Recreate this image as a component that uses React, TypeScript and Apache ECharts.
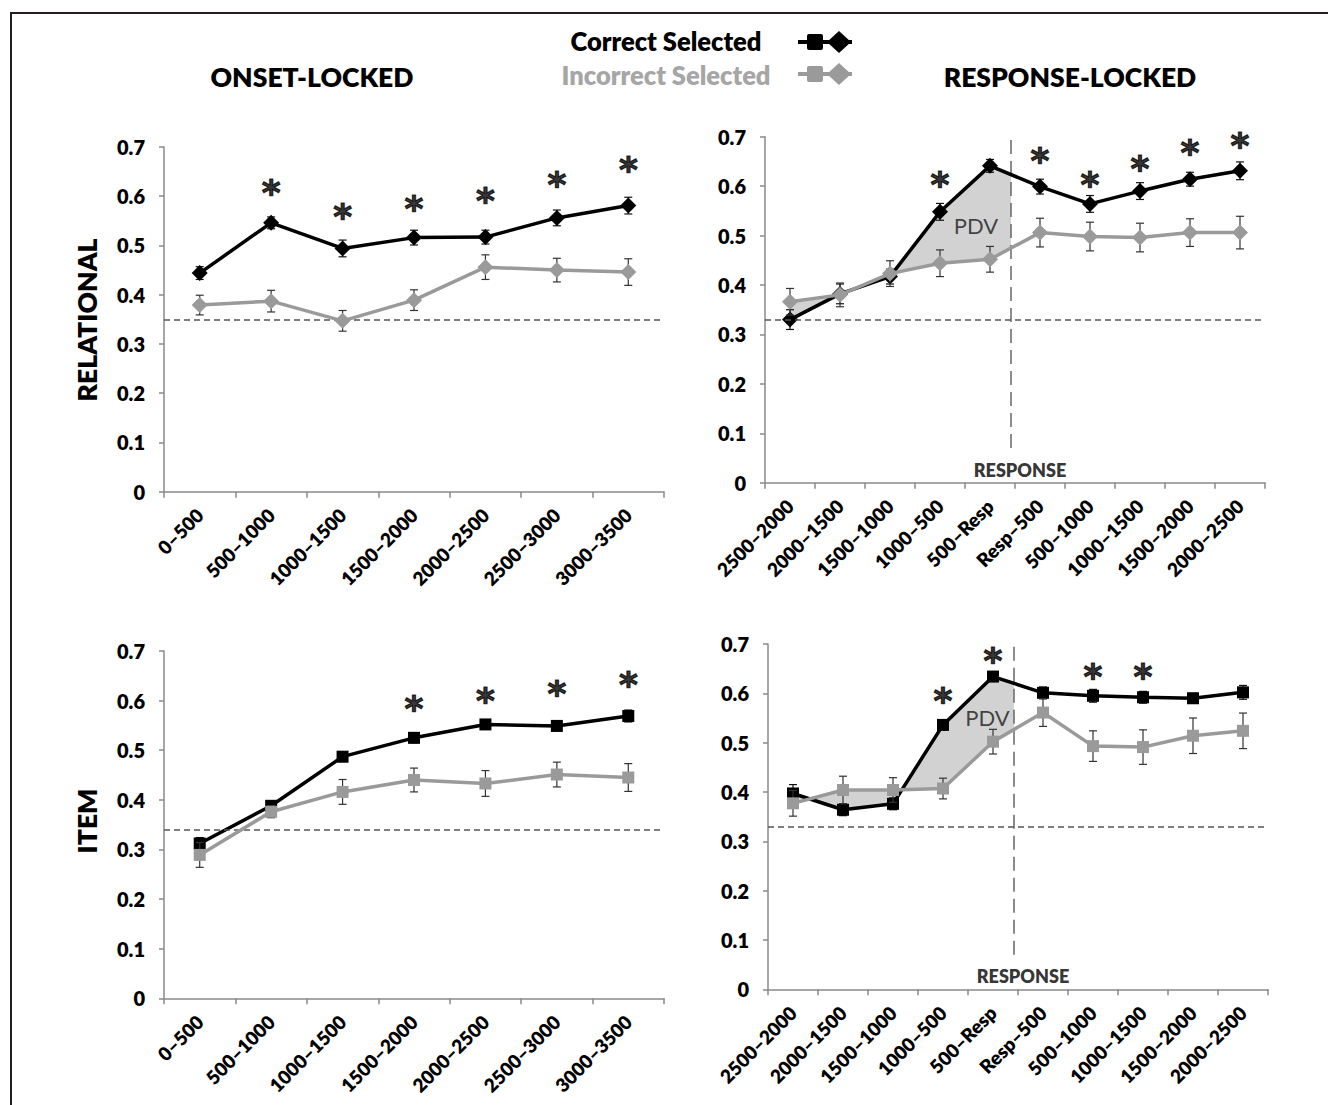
import React, { useEffect, useRef } from "react";
import * as echarts from "echarts";

// ---------- categories ----------
const onsetCats = ["0–500", "500–1000", "1000–1500", "1500–2000", "2000–2500", "2500–3000", "3000–3500"];
const respCats = ["2500–2000", "2000–1500", "1500–1000", "1000–500", "500–Resp", "Resp–500", "500–1000", "1000–1500", "1500–2000", "2000–2500"];
const yTicks = [0, 0.1, 0.2, 0.3, 0.4, 0.5, 0.6, 0.7];

// ---------- RELATIONAL, onset-locked ----------
const relOnsetCorrect = [0.444, 0.546, 0.494, 0.516, 0.517, 0.556, 0.581];
const relOnsetCorrectErr = [0.013, 0.012, 0.017, 0.015, 0.014, 0.016, 0.017];
const relOnsetIncorrect = [0.379, 0.387, 0.347, 0.389, 0.456, 0.45, 0.446];
const relOnsetIncorrectErr = [0.02, 0.022, 0.021, 0.021, 0.025, 0.024, 0.027];
const relOnsetStars = [null, 0.615, 0.568, 0.583, 0.6, 0.632, 0.663];
const relOnsetChance = 0.347;

// ---------- RELATIONAL, response-locked ----------
const relRespCorrect = [0.33, 0.382, 0.417, 0.548, 0.641, 0.599, 0.564, 0.59, 0.614, 0.631];
const relRespCorrectErr = [0.02, 0.02, 0.015, 0.017, 0.013, 0.015, 0.017, 0.017, 0.014, 0.018];
const relRespIncorrect = [0.366, 0.38, 0.423, 0.444, 0.452, 0.506, 0.498, 0.496, 0.506, 0.506];
const relRespIncorrectErr = [0.027, 0.024, 0.026, 0.027, 0.026, 0.029, 0.029, 0.029, 0.028, 0.033];
const relRespStars = [null, null, null, 0.612, 0.707, 0.66, 0.612, 0.643, 0.676, 0.69];
const relRespChance = 0.328;
const relPdvLabel = [4.22, 0.52];

// ---------- ITEM, onset-locked ----------
const itemOnsetCorrect = [0.312, 0.388, 0.487, 0.525, 0.552, 0.549, 0.569];
const itemOnsetCorrectErr = [0.012, 0.01, 0.01, 0.01, 0.008, 0.01, 0.012];
const itemOnsetIncorrect = [0.289, 0.376, 0.416, 0.44, 0.433, 0.451, 0.445];
const itemOnsetIncorrectErr = [0.025, 0.012, 0.025, 0.024, 0.026, 0.025, 0.028];
const itemOnsetStars = [null, null, null, 0.593, 0.609, 0.623, 0.64];
const itemOnsetChance = 0.341;

// ---------- ITEM, response-locked ----------
const itemRespCorrect = [0.397, 0.364, 0.376, 0.536, 0.634, 0.601, 0.595, 0.592, 0.59, 0.602];
const itemRespCorrectErr = [0.018, 0.012, 0.012, 0.01, 0.01, 0.012, 0.013, 0.012, 0.01, 0.014];
const itemRespIncorrect = [0.377, 0.404, 0.404, 0.407, 0.502, 0.561, 0.493, 0.491, 0.514, 0.524];
const itemRespIncorrectErr = [0.026, 0.028, 0.025, 0.021, 0.025, 0.028, 0.031, 0.035, 0.036, 0.036];
const itemRespStars = [null, null, null, 0.593, 0.674, null, 0.642, 0.642, null, null];
const itemRespChance = 0.325;
const itemPdvLabel = [4.39, 0.55];

// response marker (in category units along the axis)
const responseBoundary = 4.92;
const responseLineRange = [0.07, 0.7];
const responseLabel = [5.1, 0.026];

const FONT = 'Lato, "Open Sans", sans-serif';
const HEAVY = 800;
const BLACK = "#000000";
const GRAY = "#9a9a9a";
const AXIS = "#8a8a8a";

type Panel = {
  cats: string[];
  correct: number[];
  correctErr: number[];
  incorrect: number[];
  incorrectErr: number[];
  stars: (number | null)[];
  chance: number;
  symbol: string;
  symbolSize: number;
  response: boolean;
  pdv?: number[];
  grid: { left: number; top: number; width: number; height: number };
};

const panels: Panel[] = [
  {
    cats: onsetCats, correct: relOnsetCorrect, correctErr: relOnsetCorrectErr,
    incorrect: relOnsetIncorrect, incorrectErr: relOnsetIncorrectErr, stars: relOnsetStars,
    chance: relOnsetChance, symbol: "diamond", symbolSize: 16, response: false,
    grid: { left: 164, top: 147, width: 500, height: 344.7 },
  },
  {
    cats: respCats, correct: relRespCorrect, correctErr: relRespCorrectErr,
    incorrect: relRespIncorrect, incorrectErr: relRespIncorrectErr, stars: relRespStars,
    chance: relRespChance, symbol: "diamond", symbolSize: 16, response: true, pdv: relPdvLabel,
    grid: { left: 765, top: 136.7, width: 500, height: 346 },
  },
  {
    cats: onsetCats, correct: itemOnsetCorrect, correctErr: itemOnsetCorrectErr,
    incorrect: itemOnsetIncorrect, incorrectErr: itemOnsetIncorrectErr, stars: itemOnsetStars,
    chance: itemOnsetChance, symbol: "rect", symbolSize: 12, response: false,
    grid: { left: 164, top: 651, width: 500, height: 347.3 },
  },
  {
    cats: respCats, correct: itemRespCorrect, correctErr: itemRespCorrectErr,
    incorrect: itemRespIncorrect, incorrectErr: itemRespIncorrectErr, stars: itemRespStars,
    chance: itemRespChance, symbol: "rect", symbolSize: 12, response: true, pdv: itemPdvLabel,
    grid: { left: 768, top: 644, width: 500, height: 345.3 },
  },
];

function errorBarSeries(gi: number, values: number[], errs: number[], color: string, z: number) {
  return {
    type: "custom",
    xAxisIndex: gi * 2,
    yAxisIndex: gi,
    z,
    silent: true,
    data: values.map((v, i) => [i, v - errs[i], v + errs[i]]),
    encode: { x: 0, y: [1, 2] },
    renderItem: (params: any, api: any) => {
      const x = api.value(0);
      const lo = api.coord([x, api.value(1)]);
      const hi = api.coord([x, api.value(2)]);
      const w = 4;
      const style = { stroke: color, lineWidth: 1.2 };
      return {
        type: "group",
        children: [
          { type: "line", shape: { x1: lo[0], y1: lo[1], x2: hi[0], y2: hi[1] }, style },
          { type: "line", shape: { x1: lo[0] - w, y1: lo[1], x2: lo[0] + w, y2: lo[1] }, style },
          { type: "line", shape: { x1: hi[0] - w, y1: hi[1], x2: hi[0] + w, y2: hi[1] }, style },
        ],
      };
    },
  };
}

function buildOption() {
  const grid: any[] = [];
  const xAxis: any[] = [];
  const yAxis: any[] = [];
  const series: any[] = [];

  panels.forEach((p, gi) => {
    grid.push({ ...p.grid, outerBoundsMode: "none", containLabel: false });
    xAxis.push({
      type: "category",
      gridIndex: gi,
      data: p.cats,
      boundaryGap: true,
      axisLine: { show: true, lineStyle: { color: AXIS, width: 1.5 } },
      axisTick: { show: true, length: 6, lineStyle: { color: AXIS, width: 1.5 } },
      axisLabel: {
        interval: 0,
        rotate: 45,
        margin: 20,
        color: "#000",
        fontFamily: FONT,
        fontWeight: HEAVY,
        fontSize: 19,
      },
      splitLine: { show: false },
    });
    xAxis.push({
      type: "value",
      gridIndex: gi,
      min: 0,
      max: p.cats.length,
      show: false,
    });
    yAxis.push({
      type: "value",
      gridIndex: gi,
      min: yTicks[0],
      max: yTicks[yTicks.length - 1],
      interval: 0.1,
      axisLine: { show: true, lineStyle: { color: AXIS, width: 1.5 } },
      axisTick: { show: true, length: 5, lineStyle: { color: AXIS, width: 1.5 } },
      splitLine: { show: false },
      axisLabel: {
        margin: 19,
        color: "#000",
        fontFamily: FONT,
        fontWeight: HEAVY,
        fontSize: 20,
        formatter: (v: number) => (Math.abs(v) < 1e-9 ? "0" : v.toFixed(1)),
      },
    });

    if (p.response) {
      const correct = p.correct;
      const incorrect = p.incorrect;
      series.push({
        type: "custom",
        xAxisIndex: gi * 2 + 1,
        yAxisIndex: gi,
        z: 1,
        silent: true,
        data: [[0, 0]],
        encode: { x: 0, y: 1 },
        renderItem: (params: any, api: any) => {
          const top = correct.slice(0, 6).map((v, i) => api.coord([i + 0.5, v]));
          const bot = incorrect.slice(0, 6).map((v, i) => api.coord([i + 0.5, v]));
          const bx = api.coord([responseBoundary, 0])[0];
          const lerp = (a: number[], b: number[]) => {
            const t = (bx - a[0]) / (b[0] - a[0]);
            return [bx, a[1] + t * (b[1] - a[1])];
          };
          const pts = [
            ...top.slice(0, 5),
            lerp(top[4], top[5]),
            lerp(bot[4], bot[5]),
            ...bot.slice(0, 5).reverse(),
          ];
          return { type: "polygon", shape: { points: pts }, style: { fill: "#d2d2d2" } };
        },
      });
      series.push({
        type: "line",
        xAxisIndex: gi * 2 + 1,
        yAxisIndex: gi,
        z: 2,
        silent: true,
        symbol: "none",
        data: [
          [responseBoundary, responseLineRange[0]],
          [responseBoundary, responseLineRange[1]],
        ],
        lineStyle: { color: "#666", width: 1.5, type: [14, 7] },
      });
      series.push({
        type: "scatter",
        xAxisIndex: gi * 2 + 1,
        yAxisIndex: gi,
        z: 8,
        silent: true,
        symbolSize: 0,
        data: [responseLabel],
        label: {
          show: true,
          position: "inside",
          formatter: "RESPONSE",
          color: "#000",
          fontFamily: FONT,
          fontWeight: HEAVY,
          fontSize: 18,
        },
      });
      series.push({
        type: "scatter",
        xAxisIndex: gi * 2 + 1,
        yAxisIndex: gi,
        z: 8,
        silent: true,
        symbolSize: 0,
        data: [p.pdv],
        label: {
          show: true,
          position: "inside",
          formatter: "PDV",
          color: "#1a1a1a",
          fontFamily: FONT,
          fontSize: 22,
        },
      });
    }

    series.push(errorBarSeries(gi, p.correct, p.correctErr, "#111", 3));
    series.push({
      type: "line",
      name: "Correct Selected",
      xAxisIndex: gi * 2,
      yAxisIndex: gi,
      z: 4,
      data: p.correct,
      symbol: p.symbol,
      symbolSize: p.symbolSize,
      showAllSymbol: true,
      lineStyle: { color: BLACK, width: 3.5 },
      itemStyle: { color: BLACK },
      markLine: {
        silent: true,
        symbol: "none",
        label: { show: false },
        lineStyle: { color: "#555", width: 1.5, type: [6, 4] },
        data: [{ yAxis: p.chance }],
      },
    });
    series.push(errorBarSeries(gi, p.incorrect, p.incorrectErr, "#333", 5));
    series.push({
      type: "line",
      name: "Incorrect Selected",
      xAxisIndex: gi * 2,
      yAxisIndex: gi,
      z: 6,
      data: p.incorrect,
      symbol: p.symbol,
      symbolSize: p.symbolSize,
      showAllSymbol: true,
      lineStyle: { color: GRAY, width: 3.5 },
      itemStyle: { color: GRAY },
    });
    series.push({
      type: "scatter",
      xAxisIndex: gi * 2,
      yAxisIndex: gi,
      z: 9,
      silent: true,
      symbolSize: 0,
      data: p.stars.map((v, i) => (v == null ? null : [i, v])).filter((d) => d != null),
      label: {
        show: true,
        position: "inside",
        formatter: "*",
        color: "#000",
        fontFamily: '"DejaVu Sans", sans-serif',
        fontWeight: "bold",
        fontSize: 36,
        textBorderColor: "#000",
        textBorderWidth: 1.2,
        offset: [0, 4],
      },
    });
  });

  const legendText = (text: string, y: number, color: string) => ({
    type: "text",
    x: 666,
    y,
    style: { text, fill: color, font: `${HEAVY} 25.5px ${FONT}`, align: "center", verticalAlign: "middle" },
  });
  const legendIcon = (y: number, color: string) => [
    { type: "line", shape: { x1: 798, y1: y, x2: 852, y2: y }, style: { stroke: color, lineWidth: 4 } },
    { type: "rect", shape: { x: 807, y: y - 8, width: 16, height: 16, r: 2 }, style: { fill: color } },
    {
      type: "polygon",
      shape: { points: [[839, y - 11], [851, y], [839, y + 11], [827, y]] },
      style: { fill: color },
    },
  ];
  const title = (text: string, x: number, y: number, rot = 0) => ({
    type: "text",
    x,
    y,
    rotation: rot,
    style: { text, fill: "#000", font: `${HEAVY} 26.5px ${FONT}`, align: "center", verticalAlign: "middle" },
  });

  const graphic: any[] = [
    { type: "line", shape: { x1: 11, y1: 13, x2: 1328, y2: 13 }, style: { stroke: "#231f20", lineWidth: 2 } },
    { type: "line", shape: { x1: 11, y1: 12, x2: 11, y2: 1105 }, style: { stroke: "#231f20", lineWidth: 2 } },
    legendText("Correct Selected", 41, "#000"),
    legendText("Incorrect Selected", 75, "#a6a6a6"),
    ...legendIcon(42, "#000"),
    ...legendIcon(74, GRAY),
    title("ONSET-LOCKED", 312, 77),
    title("RESPONSE-LOCKED", 1070, 77),
    title("RELATIONAL", 87, 320, Math.PI / 2),
    title("ITEM", 87, 821, Math.PI / 2),
  ];

  return {
    animation: false,
    backgroundColor: "#ffffff",
    grid,
    xAxis,
    yAxis,
    series,
    graphic,
  };
}

export default function App() {
  const ref = useRef<HTMLDivElement>(null);
  useEffect(() => {
    if (!ref.current) return;
    const chart = echarts.init(ref.current, undefined, { renderer: "svg" });
    chart.setOption(buildOption() as any);
    return () => chart.dispose();
  }, []);
  return (
    <div
      ref={ref}
      style={{ position: "fixed", left: 0, top: 0, width: 1328, height: 1105, background: "#fff" }}
    />
  );
}
